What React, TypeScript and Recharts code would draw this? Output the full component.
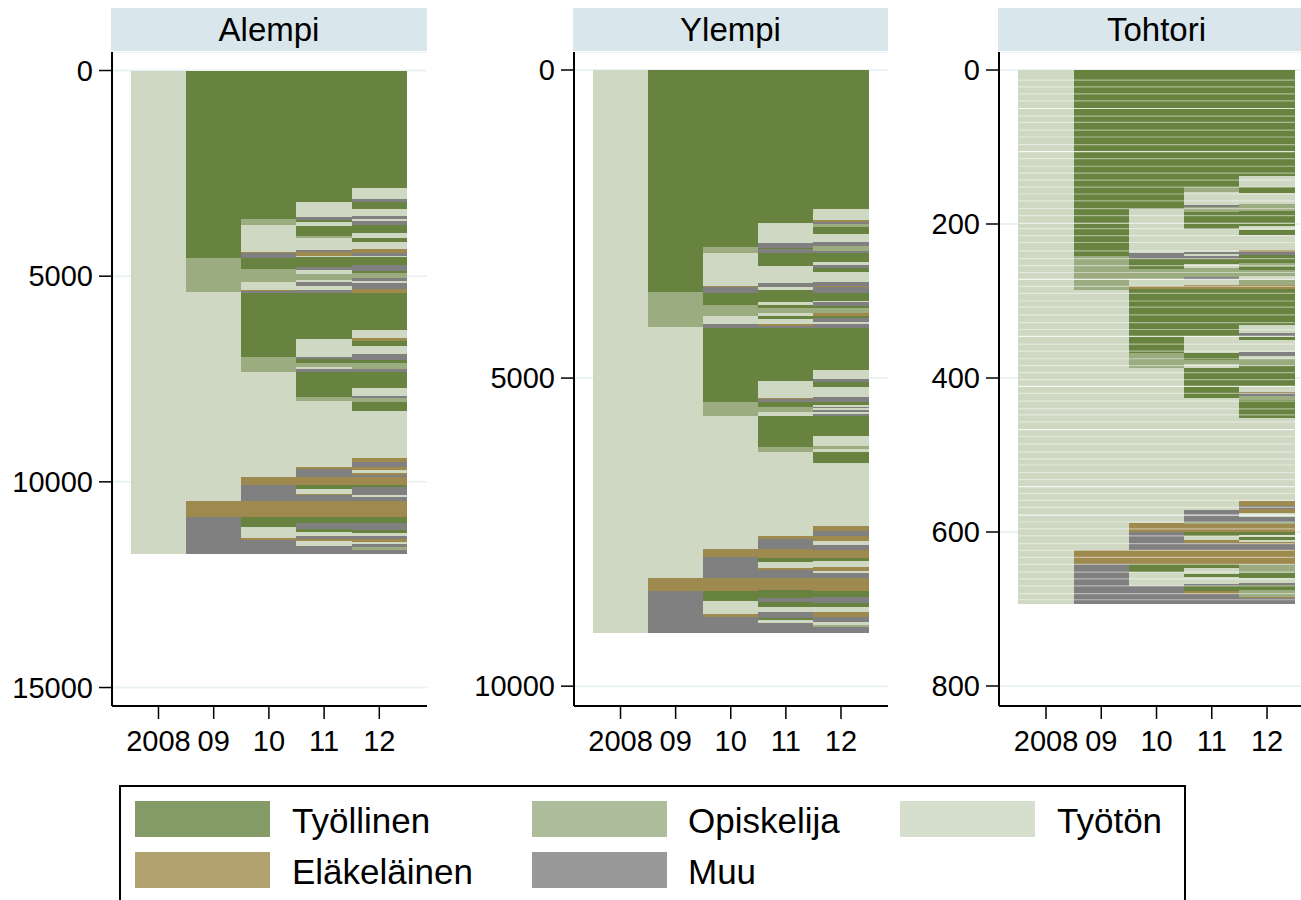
import React from "react";
import { BarChart, Bar, Cell, XAxis, YAxis, CartesianGrid, ReferenceLine } from "recharts";

type Run = [string, number];

const years = [2008, 2009, 2010, 2011, 2012];
const yearLabels = ["2008", "09", "10", "11", "12"];
const stateNames = ["Työllinen", "Opiskelija", "Työtön", "Eläkeläinen", "Muu"];
const stateKeys = ["W", "S", "U", "R", "O"];
const stateColors: Record<string, string> = { W: "#68823f", S: "#9bac80", U: "#cfd8c3", R: "#9e8a4e", O: "#808080" };
const legendColors = ["#859b67", "#adbc9b", "#d6dfce", "#b2a26f", "#999999"];

// Alempi: each run = [state, cumulative end row]
const alempi08: Run[] = [["U", 11755]];
const alempi09: Run[] = [["W", 4550], ["S", 5390], ["U", 10460], ["R", 10855], ["O", 11755]];
const alempi10: Run[] = [["W", 3617], ["S", 3756], ["U", 4405], ["R", 4437], ["O", 4551], ["W", 4833], ["S", 5149], ["U", 5336], ["R", 5360], ["O", 5416], ["W", 6972], ["S", 7322], ["U", 9889], ["R", 10084], ["O", 10458], ["R", 10855], ["W", 11090], ["U", 11372], ["R", 11414], ["O", 11755]];
const alempi11: Run[] = [["W", 3190], ["U", 3554], ["O", 3634], ["W", 3683], ["U", 3780], ["W", 4023], ["S", 4065], ["U", 4364], ["O", 4424], ["R", 4502], ["U", 4534], ["W", 4770], ["O", 4838], ["U", 4947], ["S", 5093], ["U", 5142], ["O", 5239], ["U", 5324], ["O", 5416], ["W", 6535], ["U", 6958], ["O", 7013], ["W", 7104], ["S", 7201], ["U", 7257], ["O", 7337], ["W", 7930], ["S", 8035], ["U", 9632], ["R", 9695], ["O", 9889], ["R", 10084], ["W", 10174], ["U", 10296], ["R", 10327], ["O", 10458], ["R", 10855], ["W", 11008], ["O", 11146], ["W", 11212], ["U", 11309], ["O", 11389], ["R", 11445], ["U", 11552], ["O", 11755]];
const alempi12: Run[] = [["W", 2864], ["U", 3124], ["O", 3204], ["W", 3367], ["U", 3530], ["O", 3610], ["U", 3659], ["O", 3756], ["W", 3958], ["U", 4011], ["O", 4035], ["U", 4079], ["W", 4176], ["U", 4347], ["R", 4444], ["O", 4502], ["U", 4541], ["W", 4728], ["O", 4867], ["W", 4931], ["S", 5052], ["O", 5110], ["U", 5173], ["O", 5319], ["R", 5416], ["W", 6308], ["U", 6496], ["R", 6569], ["W", 6690], ["U", 6899], ["O", 7038], ["W", 7118], ["S", 7257], ["O", 7337], ["W", 7726], ["U", 7913], ["O", 7969], ["S", 8052], ["W", 8270], ["U", 9427], ["R", 9525], ["O", 9632], ["R", 9712], ["U", 9792], ["R", 9841], ["O", 9889], ["R", 10084], ["W", 10132], ["O", 10320], ["U", 10369], ["O", 10458], ["R", 10855], ["W", 10993], ["O", 11171], ["W", 11236], ["U", 11309], ["O", 11397], ["R", 11455], ["U", 11511], ["O", 11591], ["S", 11657], ["O", 11755]];

// Ylempi
const ylempi08: Run[] = [["U", 9142]];
const ylempi09: Run[] = [["W", 3608], ["S", 4171], ["U", 8240], ["R", 8456], ["O", 9142]];
const ylempi10: Run[] = [["W", 2868], ["S", 2965], ["U", 3506], ["R", 3522], ["O", 3614], ["W", 3814], ["S", 3997], ["U", 4122], ["O", 4182], ["W", 5383], ["S", 5615], ["U", 7779], ["R", 7909], ["O", 8240], ["R", 8456], ["W", 8618], ["U", 8834], ["R", 8873], ["O", 9142]];
const ylempi11: Run[] = [["W", 2488], ["U", 2813], ["O", 2894], ["W", 2905], ["O", 2975], ["W", 3176], ["U", 3462], ["O", 3527], ["U", 3571], ["W", 3760], ["U", 3814], ["W", 3868], ["S", 3949], ["U", 3987], ["W", 4046], ["U", 4122], ["R", 4155], ["O", 4182], ["W", 5048], ["U", 5328], ["R", 5344], ["O", 5393], ["W", 5465], ["S", 5546], ["U", 5615], ["W", 6114], ["S", 6195], ["U", 7563], ["R", 7612], ["O", 7779], ["R", 7915], ["W", 7980], ["U", 8087], ["R", 8115], ["O", 8240], ["R", 8440], ["W", 8574], ["O", 8639], ["W", 8720], ["U", 8801], ["O", 8889], ["W", 8927], ["U", 8970], ["O", 9142]];
const ylempi12: Run[] = [["W", 2256], ["U", 2434], ["R", 2462], ["O", 2504], ["S", 2543], ["W", 2662], ["U", 2797], ["O", 2851], ["S", 2938], ["O", 2975], ["W", 3111], ["U", 3165], ["O", 3209], ["W", 3283], ["U", 3446], ["O", 3506], ["R", 3527], ["O", 3614], ["W", 3749], ["U", 3770], ["O", 3830], ["W", 3868], ["S", 3939], ["R", 3993], ["W", 4030], ["O", 4084], ["U", 4122], ["O", 4182], ["W", 4869], ["U", 5015], ["O", 5059], ["W", 5140], ["U", 5312], ["O", 5383], ["W", 5437], ["U", 5465], ["O", 5491], ["U", 5518], ["O", 5546], ["U", 5583], ["O", 5615], ["W", 5935], ["U", 6098], ["S", 6157], ["U", 6195], ["W", 6384], ["U", 7401], ["R", 7482], ["O", 7563], ["R", 7639], ["U", 7709], ["O", 7790], ["R", 7915], ["W", 7964], ["U", 8061], ["R", 8131], ["U", 8158], ["O", 8240], ["R", 8456], ["W", 8558], ["O", 8656], ["W", 8711], ["U", 8792], ["R", 8883], ["O", 8964], ["U", 9007], ["S", 9035], ["O", 9142]];

// Tohtori
const tohtori08: Run[] = [["U", 694]];
const tohtori09: Run[] = [["W", 242], ["S", 286], ["U", 623], ["R", 641], ["O", 694]];
const tohtori10: Run[] = [["W", 180], ["U", 238], ["O", 245], ["W", 258], ["S", 271], ["U", 281], ["R", 284], ["W", 367], ["S", 387], ["U", 588], ["R", 600], ["O", 623], ["R", 641], ["W", 652], ["U", 670], ["O", 694]];
const tohtori11: Run[] = [["W", 152], ["S", 158], ["U", 175], ["O", 178], ["S", 184], ["W", 206], ["U", 236], ["O", 239], ["U", 241], ["O", 245], ["W", 252], ["U", 257], ["S", 269], ["O", 273], ["U", 279], ["R", 284], ["W", 346], ["U", 368], ["W", 376], ["S", 382], ["U", 387], ["W", 426], ["U", 572], ["O", 587], ["S", 590], ["R", 600], ["W", 605], ["U", 611], ["R", 614], ["O", 623], ["R", 641], ["W", 647], ["U", 654], ["W", 658], ["U", 667], ["O", 670], ["W", 676], ["R", 681], ["O", 694]];
const tohtori12: Run[] = [["W", 138], ["U", 152], ["W", 160], ["U", 174], ["S", 183], ["W", 203], ["U", 208], ["W", 214], ["U", 234], ["R", 236], ["O", 240], ["W", 251], ["S", 256], ["W", 260], ["S", 268], ["U", 272], ["S", 279], ["R", 284], ["W", 331], ["U", 342], ["O", 345], ["W", 351], ["U", 366], ["O", 371], ["U", 375], ["S", 385], ["W", 410], ["U", 418], ["R", 420], ["O", 423], ["S", 429], ["W", 452], ["U", 560], ["R", 566], ["O", 570], ["R", 575], ["U", 580], ["O", 587], ["S", 590], ["R", 600], ["W", 604], ["U", 607], ["W", 610], ["U", 613], ["R", 615], ["O", 623], ["R", 641], ["S", 653], ["W", 660], ["U", 666], ["O", 669], ["W", 675], ["S", 684], ["R", 686], ["O", 694]];
const tohtoriStripes = [13, 22, 31, 40, 50, 60, 68, 78, 87, 97, 106, 115, 125, 134, 143, 152, 161, 170, 180, 189, 199, 206, 215, 224, 235, 245, 254, 263, 272, 281, 290, 300, 308, 318, 328, 337, 346, 356, 365, 375, 384, 393, 402, 411, 420, 430, 440, 448, 457, 467, 476, 486, 496, 505, 513, 523, 532, 541, 550, 559, 568, 578, 587, 596, 605, 615, 624, 633, 642, 652, 661, 670, 680, 688];
const tohtoriBrightStripes = [50, 106, 199, 272, 346, 411, 467, 541, 578];

const alempiTicks = [0, 5000, 10000, 15000];
const ylempiTicks = [0, 5000, 10000];
const tohtoriTicks = [0, 200, 400, 600, 800];

const seriesFont = "'Liberation Sans', Arial, sans-serif";
const Y_AXIS_WIDTH = 112;

function buildRows(columns: Run[][]) {
  return years.map((year, c) => {
    const row: Record<string, number> = { year };
    let prev = 0;
    columns[c].forEach(([, end], i) => {
      row["s" + i] = end - prev;
      prev = end;
    });
    return row;
  });
}

// Snaps each rectangle the library computed to whole pixels, so neighbours meet without seams.
function SnappedRect(props: any) {
  const { x, y, width, height, fill } = props;
  if (!width || !height) return null;
  const x1 = Math.round(x);
  const x2 = Math.round(x + width);
  const y1 = Math.round(Math.min(y, y + height));
  const y2 = Math.round(Math.max(y, y + height));
  return <rect x={x1} y={y1} width={x2 - x1} height={Math.max(y2 - y1, 1)} fill={fill} />;
}

type PanelProps = {
  title: string;
  columns: Run[][];
  ticks: number[];
  yDomain: [number, number];
  xDomain: [number, number];
  left: number;
  width: number;
  stripLeft: number;
  stripWidth: number;
  stripes?: number[];
  brightStripes?: number[];
};

function Panel({ title, columns, ticks, yDomain, xDomain, left, width, stripLeft, stripWidth, stripes = [], brightStripes = [] }: PanelProps) {
  const rows = buildRows(columns);
  const maxRuns = Math.max(...columns.map((c) => c.length));
  const tickStyle = { fontSize: 29, fill: "#000", fontFamily: seriesFont };
  // a bar must stay just under the band, or the library falls back to 90% of it
  const barSize = (width - Y_AXIS_WIDTH) / (xDomain[1] - xDomain[0]) - 0.02;
  return (
    <>
      <div
        style={{
          position: "absolute",
          left: stripLeft,
          top: 8,
          width: stripWidth,
          height: 43,
          background: "#d9e6eb",
          textAlign: "center",
          fontFamily: seriesFont,
          fontSize: 33,
          lineHeight: "43px",
          color: "#000",
        }}
      >
        {title}
      </div>
      <div style={{ position: "absolute", left, top: 52 }}>
        <BarChart
          width={width}
          height={714}
          data={rows}
          margin={{ top: 0, right: 0, bottom: 0, left: 0 }}
          barGap={0}
          barCategoryGap={0}
          barSize={barSize}
        >
          <CartesianGrid vertical={false} stroke="#eaf2f3" strokeWidth={2} />
          <XAxis
            dataKey="year"
            type="number"
            scale="linear"
            domain={xDomain}
            allowDataOverflow
            ticks={years}
            interval={0}
            height={60}
            tickSize={13}
            tickMargin={11}
            tick={tickStyle}
            tickFormatter={(v: number) => yearLabels[years.indexOf(v)]}
            axisLine={{ stroke: "#000", strokeWidth: 2 }}
            tickLine={{ stroke: "#000", strokeWidth: 1.5 }}
          />
          <YAxis
            type="number"
            reversed
            domain={yDomain}
            allowDataOverflow
            ticks={ticks}
            interval={0}
            width={Y_AXIS_WIDTH}
            tickSize={13}
            tickMargin={6}
            tick={tickStyle}
            axisLine={{ stroke: "#000", strokeWidth: 2 }}
            tickLine={{ stroke: "#000", strokeWidth: 1.5 }}
          />
          {Array.from({ length: maxRuns }, (_, i) => (
            <Bar key={i} dataKey={"s" + i} stackId="seq" isAnimationActive={false} stroke="none" shape={SnappedRect}>
              {rows.map((_r, c) => {
                const run = columns[c][i];
                return <Cell key={c} fill={run ? stateColors[run[0]] : "none"} />;
              })}
            </Bar>
          ))}
          {stripes.map((y) => (
            <ReferenceLine
              key={y}
              segment={[{ x: 2007.5, y }, { x: 2012.5, y }]}
              stroke="#ffffff"
              strokeOpacity={brightStripes.includes(y) ? 0.8 : 0.45}
              strokeWidth={1.2}
              ifOverflow="visible"
            />
          ))}
        </BarChart>
      </div>
    </>
  );
}

const swatchLefts = [135, 532, 900, 135, 532];
const swatchTops = [801, 801, 801, 852, 852];
const labelLefts = [292, 688, 1057, 292, 688];

function ChartLegend() {
  return (
    <>
      <div
        style={{
          position: "absolute",
          left: 119,
          top: 785,
          width: 1063,
          height: 140,
          border: "2px solid #000",
          boxSizing: "content-box",
          background: "#fff",
        }}
      />
      {stateKeys.map((_k, i) => (
        <React.Fragment key={i}>
          <div
            style={{
              position: "absolute",
              left: swatchLefts[i],
              top: swatchTops[i],
              width: 135,
              height: 36,
              background: legendColors[i],
            }}
          />
          <div
            style={{
              position: "absolute",
              left: labelLefts[i],
              top: swatchTops[i],
              height: 36,
              lineHeight: "40px",
              fontFamily: seriesFont,
              fontSize: 35,
              color: "#000",
              whiteSpace: "nowrap",
            }}
          >
            {stateNames[i]}
          </div>
        </React.Fragment>
      ))}
    </>
  );
}

export default function App() {
  return (
    <div style={{ position: "absolute", left: 0, top: 0, width: 1301, height: 900, overflow: "hidden", background: "#fff" }}>
      <Panel
        title="Alempi"
        columns={[alempi08, alempi09, alempi10, alempi11, alempi12]}
        ticks={alempiTicks}
        yDomain={[-450, 15449]}
        xDomain={[2007.158, 2012.864]}
        left={0}
        width={427}
        stripLeft={111}
        stripWidth={316}
      />
      <Panel
        title="Ylempi"
        columns={[ylempi08, ylempi09, ylempi10, ylempi11, ylempi12]}
        ticks={ylempiTicks}
        yDomain={[-292, 10322]}
        xDomain={[2007.156, 2012.853]}
        left={462}
        width={426}
        stripLeft={573}
        stripWidth={315}
      />
      <Panel
        title="Tohtori"
        columns={[tohtori08, tohtori09, tohtori10, tohtori11, tohtori12]}
        ticks={tohtoriTicks}
        yDomain={[-23.4, 826]}
        xDomain={[2007.149, 2012.615]}
        left={887}
        width={414}
        stripLeft={998}
        stripWidth={317}
        stripes={tohtoriStripes}
        brightStripes={tohtoriBrightStripes}
      />
      <ChartLegend />
    </div>
  );
}
